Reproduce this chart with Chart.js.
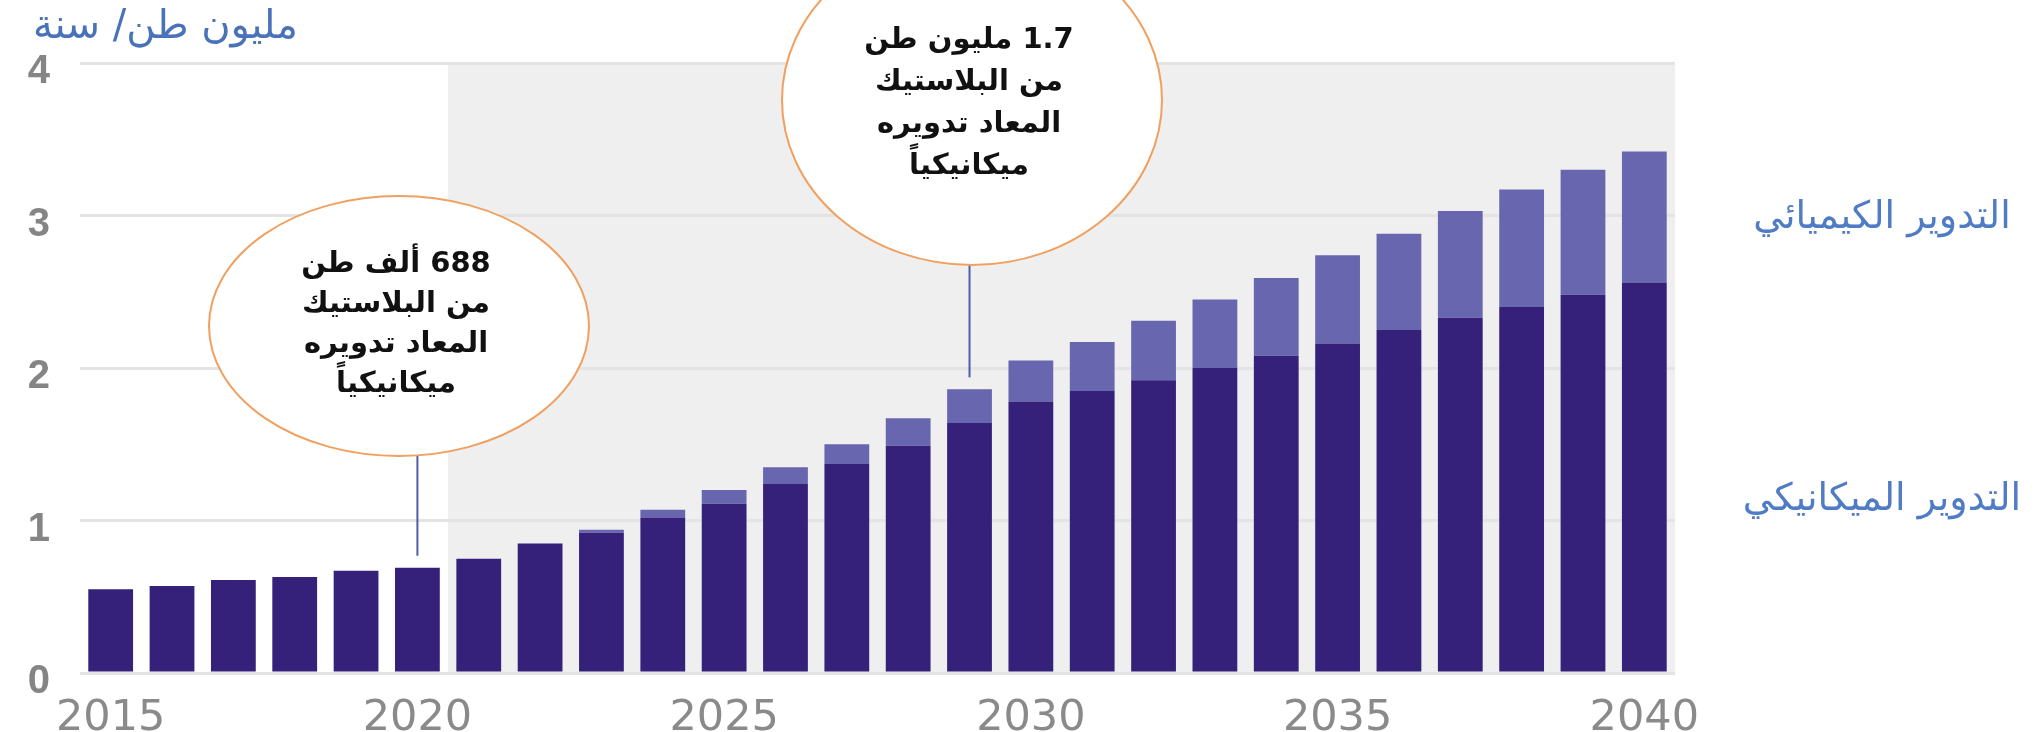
<!DOCTYPE html>
<html lang="ar">
<head>
<meta charset="utf-8">
<script src="https://cdn.jsdelivr.net/npm/chart.js@4.4.1/dist/chart.umd.min.js"></script>
<style>
  html, body { margin: 0; padding: 0; background: #fff; }
  #wrap { width: 2041px; height: 732px; position: relative; }
</style>
</head>
<body>
<div id="wrap"><canvas id="chart" width="2041" height="732"></canvas></div>
<script>
const years = ['2015', '2016', '2017', '2018', '2019', '2020', '2021', '2022', '2023', '2024', '2025', '2026', '2027',
  '2028', '2029', '2030', '2031', '2032', '2033', '2034', '2035', '2036', '2037', '2038', '2039', '2040'];
const tickYears = ['2015', '2020', '2025', '2030', '2035', '2040'];
const yTicks = [0, 1, 2, 3, 4];

// million tonnes / year
const mechanical = [0.55, 0.57, 0.61, 0.63, 0.67, 0.69, 0.75, 0.85, 0.92, 1.02, 1.11, 1.24, 1.37,
  1.49, 1.64, 1.78, 1.85, 1.92, 2.00, 2.08, 2.16, 2.25, 2.33, 2.40, 2.48, 2.56];
const chemical = [0, 0, 0, 0, 0, 0, 0, 0, 0.02, 0.05, 0.09, 0.11, 0.13,
  0.18, 0.22, 0.27, 0.32, 0.39, 0.45, 0.51, 0.58, 0.63, 0.70, 0.77, 0.82, 0.86];

const unitLabel = 'مليون طن/ سنة';
const seriesNames = ['التدوير الميكانيكي', 'التدوير الكيميائي'];
const projectionStart = 5; // shading starts after 2020

const notes = [
  { index: 5, lines: ['688 ألف طن', 'من البلاستيك', 'المعاد تدويره', 'ميكانيكياً'], cx: 399, cy: 326, rx: 190, ry: 130, textY: 264, gap: 40 },
  { index: 14, lines: ['1.7 مليون طن', 'من البلاستيك', 'المعاد تدويره', 'ميكانيكياً'], cx: 972, cy: 100, rx: 190, ry: 165, textY: 40, gap: 42 }
];

const shadePlugin = {
  id: 'shade',
  beforeDraw(chart) {
    const { ctx, chartArea, scales: { x, y } } = chart;
    const left = (x.getPixelForValue(projectionStart) + x.getPixelForValue(projectionStart + 1)) / 2;
    const top = y.getPixelForValue(yTicks[yTicks.length - 1]);
    ctx.save();
    ctx.fillStyle = '#efefef';
    ctx.fillRect(left, top, chartArea.right - left, y.getPixelForValue(0) - top);
    ctx.restore();
  }
};

const notesPlugin = {
  id: 'notes',
  afterDraw(chart) {
    const { ctx, scales: { x, y } } = chart;
    ctx.save();
    ctx.direction = 'rtl';
    ctx.textAlign = 'center';
    ctx.textBaseline = 'middle';

    notes.forEach(n => {
      const lx = x.getPixelForValue(n.index);
      const total = mechanical[n.index] + chemical[n.index];
      ctx.strokeStyle = '#4d5ea8';
      ctx.lineWidth = 2;
      ctx.beginPath();
      ctx.moveTo(lx, n.cy + n.ry);
      ctx.lineTo(lx, y.getPixelForValue(total) - 12);
      ctx.stroke();

      ctx.beginPath();
      ctx.ellipse(n.cx, n.cy, n.rx, n.ry, 0, 0, Math.PI * 2);
      ctx.fillStyle = '#ffffff';
      ctx.fill();
      ctx.strokeStyle = '#f0a060';
      ctx.lineWidth = 2;
      ctx.stroke();

      ctx.fillStyle = '#111';
      ctx.font = 'bold 29px "DejaVu Sans"';
      n.lines.forEach((t, i) => ctx.fillText(t, n.cx - 3, n.textY + i * n.gap));
    });

    // unit label
    ctx.fillStyle = '#4a72b8';
    ctx.font = '40px "DejaVu Sans"';
    ctx.textAlign = 'right';
    ctx.fillText(unitLabel, 298, 28);

    // series labels on the right
    ctx.fillStyle = '#4f7cc4';
    ctx.font = '38px "DejaVu Sans"';
    ctx.textAlign = 'center';
    ctx.fillText(seriesNames[1], 1882, 218);
    ctx.fillText(seriesNames[0], 1882, 500);
    ctx.restore();
  }
};

new Chart(document.getElementById('chart'), {
  type: 'bar',
  data: {
    labels: years,
    datasets: [
      { label: seriesNames[0], data: mechanical, backgroundColor: '#35217a' },
      { label: seriesNames[1], data: chemical, backgroundColor: '#6866ae' }
    ]
  },
  options: {
    responsive: false,
    animation: false,
    layout: { padding: { left: 0, right: 366, top: 63, bottom: 0 } },
    plugins: { legend: { display: false }, tooltip: { enabled: false } },
    datasets: { bar: { categoryPercentage: 1, barPercentage: 0.73 } },
    scales: {
      x: {
        stacked: true,
        grid: { display: false },
        border: { display: false },
        ticks: {
          autoSkip: false, maxRotation: 0, padding: 12, color: '#8a8a8a',
          font: { family: 'DejaVu Sans', size: 43 },
          callback: (v, i) => tickYears.includes(years[i]) ? years[i] : ''
        },
        afterFit: s => { s.height = 59; }
      },
      y: {
        stacked: true, min: 0, max: 4,
        afterBuildTicks: s => { s.ticks = yTicks.map(v => ({ value: v })); },
        grid: { color: '#e4e4e4', lineWidth: 3, drawTicks: false },
        border: { display: false },
        ticks: {
          padding: 30, labelOffset: 9, color: '#858585',
          font: { family: 'Liberation Sans', size: 40, weight: 'bold' }
        },
        afterFit: s => { s.width = 80; }
      }
    }
  },
  plugins: [shadePlugin, notesPlugin]
});
</script>
</body>
</html>
